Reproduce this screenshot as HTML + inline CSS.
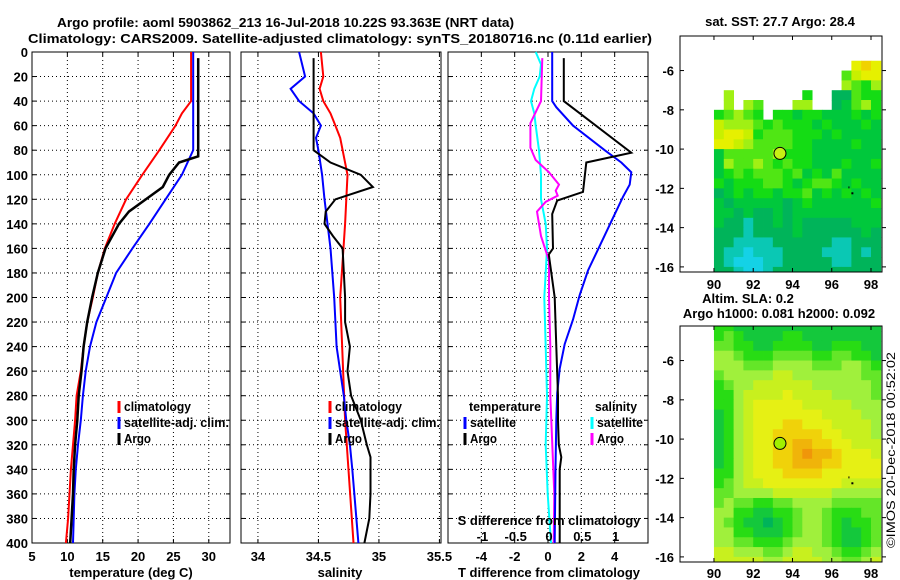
<!DOCTYPE html>
<html><head><meta charset="utf-8"><style>
html,body{margin:0;padding:0;background:#fff;}
svg{display:block;font-family:"Liberation Sans",Arial,sans-serif;}
.b{font-weight:bold;font-size:13px;}
</style></head><body>
<svg id="fig" width="900" height="580" viewBox="0 0 900 580" xmlns="http://www.w3.org/2000/svg">
<rect width="900" height="580" fill="#fff"/>
<text class="b" x="57" y="27" font-size="14" textLength="457" lengthAdjust="spacingAndGlyphs">Argo profile: aoml 5903862_213 16-Jul-2018 10.22S 93.363E (NRT data)</text>
<text class="b" x="28" y="43" font-size="14" textLength="624" lengthAdjust="spacingAndGlyphs">Climatology: CARS2009. Satellite-adjusted climatology: synTS_20180716.nc (0.11d earlier)</text>
<g id="plots"></g>
<text x="0" y="0" font-size="12" transform="translate(895,548) rotate(-90)" textLength="196" lengthAdjust="spacingAndGlyphs">©IMOS 20-Dec-2018 00:52:02</text>
</svg>
<script>
// ---------- profile data ----------
const tempClimDepth=[0,40,50,60,80,100,120,140,160,180,200,220,240,260,280,300,320,340,360,380,400];
const tempClim=[27.5,27.5,26.2,25.3,23.0,20.6,18.3,16.7,15.3,14.3,13.6,12.8,12.3,11.9,11.3,11.1,10.8,10.5,10.3,10.1,9.8];
const tempSatDepth=[0,80,100,120,140,160,180,200,220,240,260,280,300,320,340,360,380,400];
const tempSat=[27.8,27.8,26.2,23.9,21.6,19.2,16.9,15.5,14.1,13.2,12.6,12.2,11.9,11.5,11.2,11.0,10.9,10.8];
const tempArgoDepth=[5,85,90,100,110,120,130,140,160,180,200,220,240,260,280,300,320,340,360,380,400];
const tempArgo=[28.5,28.5,25.8,24.4,23.5,21.1,18.7,17.3,15.4,14.3,13.5,12.8,12.3,12.0,11.6,11.4,11.1,10.9,10.8,10.6,10.4];

const salClimDepth=[0,20,30,40,50,60,70,100,140,200,300,400];
const salClim=[34.52,34.54,34.51,34.54,34.60,34.64,34.68,34.74,34.72,34.68,34.72,34.79];
const salSatDepth=[0,20,30,40,50,60,70,80,100,120,160,200,240,280,300,320,340,400];
const salSat=[34.34,34.39,34.27,34.34,34.46,34.52,34.48,34.50,34.53,34.55,34.60,34.63,34.65,34.71,34.73,34.76,34.78,34.83];
const salArgoDepth=[5,80,90,100,110,120,130,140,150,160,200,220,240,260,280,300,320,330,360,380,400];
const salArgo=[34.46,34.46,34.60,34.85,34.95,34.64,34.56,34.55,34.62,34.70,34.72,34.72,34.76,34.74,34.77,34.85,34.90,34.93,34.93,34.92,34.88];

const tdSatDepth=[0,40,45,60,80,90,98,108,118,138,158,178,198,218,238,258,278,300,340,400];
const tdSat=[0.25,0.25,0.5,1.5,3.4,4.4,5.0,4.9,4.5,3.8,3.1,2.4,1.9,1.5,1.0,0.7,0.55,0.5,0.45,0.4];
const tdArgoDepth=[5,40,82,90,114,121,132,160,165,200,240,280,300,320,330,340,400];
const tdArgo=[0.95,0.95,5.0,2.3,2.1,0.55,0.25,0.3,0.05,0.4,0.5,0.6,0.6,0.65,0.8,0.7,0.7];
const sdSatDepth=[0,10,20,30,40,50,60,80,100,120,140,160,180,200,240,280,320,360,400];
const sdSat=[-0.2,-0.12,-0.14,-0.22,-0.27,-0.22,-0.2,-0.15,-0.12,-0.12,-0.05,-0.03,-0.05,-0.07,-0.05,-0.03,-0.05,-0.02,0.03];
const sdArgoDepth=[5,40,58,78,88,98,108,113,117,122,130,150,170,200,240,280,320,360,400];
const sdArgo=[-0.1,-0.12,-0.28,-0.28,-0.2,0.0,0.15,0.1,0.13,-0.05,-0.18,-0.12,0.0,0.0,0.02,0.02,0.05,0.08,0.07];

const depthTicks=[0,20,40,60,80,100,120,140,160,180,200,220,240,260,280,300,320,340,360,380,400];
const tempTicks=[5,10,15,20,25,30];
const salTicks=[34,34.5,35,35.5];
const salTickLabels=["34","34.5","35","35.5"];
const tdTicks=[-4,-2,0,2,4];
const sdTicks=[-1,-0.5,0,0.5,1];
const sdTickLabels=["-1","-0.5","0","0.5","1"];

// ---------- map data (0.5 deg cells, rows from north) ----------
const sstLatTop=-5.5;
const sstRows=[
"..............898",
".............5788",
".............6546",
".6.......4..22544",
".6.65...66..23564",
"45654.44344333434",
"76665454443433343",
"78874555444343333",
"88765555443333433",
"35555564443333333",
"36556545443334334",
"34545554534353333",
"43444554345543433",
"23434434453434343",
"32333332343333334",
"33232232333333333",
"32212232322222333",
"22212222322222232",
"22111122222211222",
"21101112222111212",
"21000112222211222",
"22100122222222222"];
const sstColors={"0":"#14d2e6","1":"#0ac8b4","2":"#00b45a","3":"#00c83c","4":"#14dc14","5":"#50e614","6":"#a0f014","7":"#c8f000","8":"#e6f000","9":"#f0d200"};
const slaLatTop=-4.0;
const slaRows=[
"44333333333333333",
"45433334433333333",
"55443344443344433",
"66544455554455443",
"66655566665556654",
"56666677666666655",
"45667777776666665",
"44677778777766665",
"44678888877777666",
"34678888888777766",
"34678889988877776",
"34678899999887776",
"34678899aa9988777",
"34678899abaa98887",
"34678899aaa998888",
"44678889999888888",
"45677888888887777",
"55666677777766666",
"56554455666655555",
"66443344566544455",
"65433234566543445",
"66443334566543345",
"66554445666543345",
"77666556776654456",
"77777667777665567"];
const slaColors={"2":"#00b45a","3":"#14c83c","4":"#28dc14","5":"#64e628","6":"#a0f03c","7":"#c8f01e","8":"#e6f014","9":"#f0d20a","a":"#f0b40a","b":"#f0960a"};
const argoLon=93.363, argoLat=-10.22;
const lonTicks=[90,92,94,96,98];
const latTicks=[-6,-8,-10,-12,-14,-16];

// ---------- helpers ----------
const NS="http://www.w3.org/2000/svg";
const root=document.getElementById('plots');
function mk(tag,attrs,parent){const e=document.createElementNS(NS,tag);for(const k in attrs)e.setAttribute(k,attrs[k]);(parent||root).appendChild(e);return e;}
function txt(s,x,y,anchor,parent,size){const t=mk('text',{x:x,y:y,'text-anchor':anchor||'start','font-size':size||13,'font-weight':'bold'},parent);t.textContent=s;return t;}

const PY0=52, PY1=543;
function yD(d){return PY0+(d/400)*(PY1-PY0);}

function panel(name,x0,x1,vmin,vmax,ticks,labels,yLabels){
  const g=mk('g',{});
  
  
  const sx=v=>x0+(v-vmin)/(vmax-vmin)*(x1-x0);
  for(const d of depthTicks){
    if(d>0&&d<400){const l=mk('line',{x1:x0,x2:x1,y1:yD(d),y2:yD(d),stroke:'#000','stroke-width':1,'stroke-dasharray':'1,3'},g);
    
    }
    mk('line',{x1:x0,x2:x0+4,y1:yD(d),y2:yD(d),stroke:'#000'},g);
    mk('line',{x1:x1-4,x2:x1,y1:yD(d),y2:yD(d),stroke:'#000'},g);
    if(yLabels){const t=txt(String(d),28,yD(d)+5,'end',g);
      
      }
  }
  ticks.forEach((v,i)=>{
    const x=sx(v);
    if(x>x0+1&&x<x1-1){const l=mk('line',{x1:x,x2:x,y1:PY0,y2:PY1,stroke:'#000','stroke-width':1,'stroke-dasharray':'1,3'},g);
      
      }
    mk('line',{x1:x,x2:x,y1:PY1,y2:PY1-4,stroke:'#000'},g);
    mk('line',{x1:x,x2:x,y1:PY0,y2:PY0+4,stroke:'#000'},g);
    if(labels){const t=txt(labels[i],x,561,'middle',g);
      
      }
  });
  const fr=mk('rect',{x:x0,y:PY0,width:x1-x0,height:PY1-PY0,fill:'none',stroke:'#000','stroke-width':1},g);
  
  
  return {g,sx};
}
function series(p,depths,vals,color,w,name){
  const pts=depths.map((d,i)=>p.sx(vals[i]).toFixed(1)+','+yD(d).toFixed(1)).join(' ');
  const l=mk('polyline',{points:pts,fill:'none',stroke:color,'stroke-width':w,'stroke-linejoin':'miter'},p.g);
  
  
}
function legend(g,x,y,color,label,name,w){
  if(color){mk('line',{x1:x,x2:x,y1:y-10,y2:y+2,stroke:color,'stroke-width':3},g);}
  const t=txt(label,x+(color?5:0),y,'start',g,12.5);
  t.setAttribute('textLength',w);
  t.setAttribute('lengthAdjust','spacingAndGlyphs');
  
  
}

// panel 1 temperature
const p1=panel('temperature-panel',32,230,5,33,tempTicks,tempTicks.map(String),true);
series(p1,tempClimDepth,tempClim,'#ff0000',2,'temp-climatology-line');
series(p1,tempSatDepth,tempSat,'#0000ff',2,'temp-satellite-line');
series(p1,tempArgoDepth,tempArgo,'#000',2.5,'temp-argo-line');
legend(p1.g,119,411,'#ff0000','climatology','legend-climatology',67);
legend(p1.g,119,427,'#0000ff','satellite-adj. clim.','legend-satellite',105);
legend(p1.g,119,443,'#000','Argo','legend-argo',27);
let t=txt('temperature (deg C)',131,577,'middle',p1.g);



// panel 2 salinity
const p2=panel('salinity-panel',241,441,33.86,35.513,salTicks,salTickLabels,false);
series(p2,salClimDepth,salClim,'#ff0000',2,'sal-climatology-line');
series(p2,salSatDepth,salSat,'#0000ff',2,'sal-satellite-line');
series(p2,salArgoDepth,salArgo,'#000',2,'sal-argo-line');
legend(p2.g,330,411,'#ff0000','climatology','legend-climatology',67);
legend(p2.g,330,427,'#0000ff','satellite-adj. clim.','legend-satellite',105);
legend(p2.g,330,443,'#000','Argo','legend-argo',27);
t=txt('salinity',340,577,'middle',p2.g);



// panel 3 differences
const p3=panel('difference-panel',448,648,-6,6,tdTicks,tdTicks.map(String),false);
const p3s={g:p3.g,sx:v=>549+v*66.6};
series(p3s,sdSatDepth,sdSat,'#00ffff',2,'sal-diff-satellite-line');
series(p3s,sdArgoDepth,sdArgo,'#ff00ff',2,'sal-diff-argo-line');
series(p3,tdSatDepth,tdSat,'#0000ff',2,'temp-diff-satellite-line');
series(p3,tdArgoDepth,tdArgo,'#000',2,'temp-diff-argo-line');
legend(p3.g,469,411,null,'temperature','legend-temperature-header',72);
legend(p3.g,465,427,'#0000ff','satellite','legend-temp-satellite',46);
legend(p3.g,465,443,'#000','Argo','legend-temp-argo',27);
legend(p3.g,595,411,null,'salinity','legend-salinity-header',42);
legend(p3.g,592,427,'#00ffff','satellite','legend-sal-satellite',46);
legend(p3.g,592,443,'#ff00ff','Argo','legend-sal-argo',27);
t=txt('S difference from climatology',549,525,'middle',p3.g);


sdTicks.forEach((v,i)=>{const s=txt(sdTickLabels[i],p3s.sx(v),541,'middle',p3.g);
  
  });
t=txt('T difference from climatology',549,577,'middle',p3.g);



// ---------- maps ----------
const LON0=88.27, LON1=98.56, LAT0=-4.24, LAT1=-16.26, MX0=680, MX1=882;
function mapPanel(name,top,rows,colors,latTop,lonLabelY,circleFill){
  const bot=top+236;
  const g=mk('g',{});
  
  
  const sx=lon=>MX0+(lon-LON0)/(LON1-LON0)*(MX1-MX0);
  const sy=lat=>top+(lat-LAT0)/(LAT1-LAT0)*(bot-top);
  const cid='clip'+name;
  const cp=mk('clipPath',{id:cid},g);
  mk('rect',{x:MX0,y:top,width:MX1-MX0,height:bot-top},cp);
  const cg=mk('g',{'clip-path':'url(#'+cid+')'},g);
  rows.forEach((row,r)=>{
    const la=latTop-r*0.5;
    for(let c=0;c<row.length;c++){
      const ch=row[c];
      if(!(ch in colors))continue;
      const lo=90+c*0.5;
      const x=sx(lo), y=sy(la);
      const cell=mk('rect',{x:x.toFixed(2),y:y.toFixed(2),width:(sx(lo+0.5)-x+0.4).toFixed(2),height:(sy(la-0.5)-y+0.4).toFixed(2),fill:colors[ch]},cg);
      
      
    }
  });
  const c=mk('circle',{cx:sx(argoLon),cy:sy(argoLat),r:6,fill:circleFill,stroke:'#000','stroke-width':1},g);
  
  
  mk('rect',{x:sx(96.85),y:sy(-11.9),width:1,height:2,fill:'#000'},g);
  mk('rect',{x:sx(97.0),y:sy(-12.2),width:2,height:2,fill:'#000'},g);
  const fr=mk('rect',{x:MX0,y:top,width:MX1-MX0,height:bot-top,fill:'none',stroke:'#000'},g);
  
  
  lonTicks.forEach(v=>{const x=sx(v);
    mk('line',{x1:x,x2:x,y1:bot,y2:bot-4,stroke:'#000'},g);
    mk('line',{x1:x,x2:x,y1:top,y2:top+4,stroke:'#000'},g);
    const l=txt(String(v),x,lonLabelY,'middle',g);
    
    });
  latTicks.forEach(v=>{const y=sy(v);
    mk('line',{x1:MX1,x2:MX1+4,y1:y,y2:y,stroke:'#000'},g);
    mk('line',{x1:MX0,x2:MX0+4,y1:y,y2:y,stroke:'#000'},g);
    const l=txt(String(v),674,y+5,'end',g);
    
    });
  return g;
}
const m1=mapPanel('sst-map',36,sstRows,sstColors,sstLatTop,289,'#c8f014');
t=txt('sat. SST: 27.7 Argo: 28.4',780,26,'middle',m1);


const m2=mapPanel('sla-map',326,slaRows,slaColors,slaLatTop,578,'#a0f000');
t=txt('Altim. SLA: 0.2',748,303,'middle',m2);


t=txt('Argo h1000: 0.081 h2000: 0.092',779,318,'middle',m2);


</script>
</body></html>
